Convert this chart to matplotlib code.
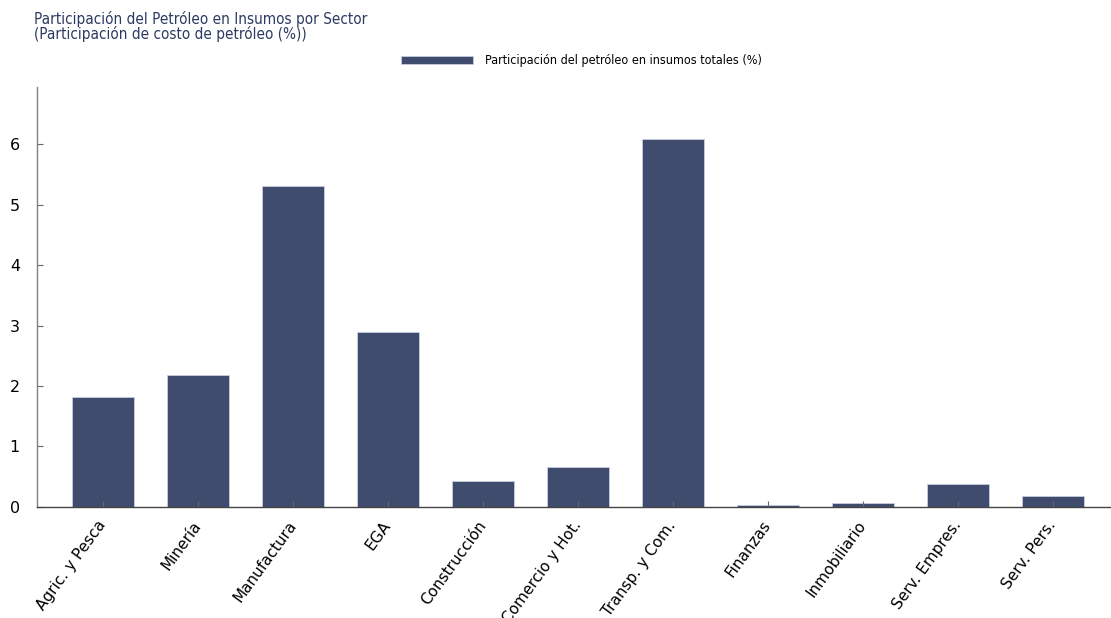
import matplotlib
matplotlib.use("Agg")
import matplotlib.pyplot as plt
import matplotlib.transforms as mtransforms
import numpy as np

# Oil share of total inputs by sector
sectores = ["Agric. y Pesca", "Minería", "Manufactura", "EGA", "Construcción",
            "Comercio y Hot.", "Transp. y Com.", "Finanzas", "Inmobiliario",
            "Serv. Empres.", "Serv. Pers."]
participacion = [1.82, 2.19, 5.32, 2.90, 0.43, 0.66, 6.09, 0.03, 0.07, 0.38, 0.18]
yticks = [0, 1, 2, 3, 4, 5, 6]

color_barra = "#3f4c6e"
color_titulo = "#2b3a60"

fig = plt.figure(figsize=(11.11, 6.18), dpi=100)
ax = fig.add_axes([0.033, 0.18, 0.966, 0.679])

x = np.arange(len(sectores))
ax.bar(x, participacion, width=0.65, color=color_barra, edgecolor="#c8cde0",
       linewidth=0.6, label="Participación del petróleo en insumos totales (%)")

ax.set_xlim(-0.7, len(sectores) - 0.4)
ax.set_ylim(0, 6.95)
ax.set_yticks(yticks)
ax.set_xticks(x)
ax.set_xticklabels(sectores, rotation=54, ha="right", fontsize=11)
ax.tick_params(axis="both", direction="in", length=4, color="#666666")
ax.tick_params(axis="y", labelsize=11.5, pad=12)
ax.tick_params(axis="x", pad=8)

# labels sit a little right of their ticks
offset = mtransforms.ScaledTranslation(0.06, 0, fig.dpi_scale_trans)
for lab in ax.get_xticklabels():
    lab.set_transform(lab.get_transform() + offset)

for s in ["top", "right"]:
    ax.spines[s].set_visible(False)
ax.spines["left"].set_color("#808080")
ax.spines["bottom"].set_color("#444444")
for s in ["left", "bottom"]:
    ax.spines[s].set_linewidth(1.0)

fig.text(0.031, 0.982, "Participación del Petróleo en Insumos por Sector\n(Participación de costo de petróleo (%))",
         fontsize=11, color=color_titulo, va="top", ha="left", linespacing=0.95,
         fontstretch="condensed")

fig.legend(loc="center", bbox_to_anchor=(0.5235, 0.902), frameon=False,
           prop={"size": 9, "stretch": "condensed"},
           handlelength=5.7, handleheight=0.65, handletextpad=1.0)

fig.savefig("out.png", dpi=100)
